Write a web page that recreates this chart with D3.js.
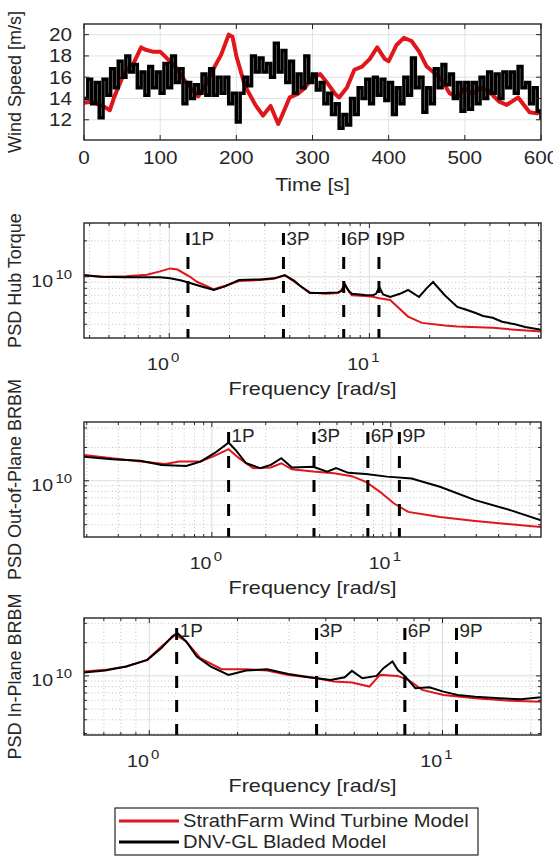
<!DOCTYPE html>
<html>
<head>
<meta charset="utf-8">
<script src="https://cdn.jsdelivr.net/npm/d3@7"></script>
<style>
  body { margin: 0; background: #fff; }
  text { font-family: "Liberation Sans", Arial, Helvetica, sans-serif; fill: #262626; }
</style>
</head>
<body>
<div id="chart"></div>
<script>
// ---- data ----
// wind speed, StrathFarm model (time [s], speed [m/s])
const windStrathT = [0,10,25,34,40,50,55,65,75,80,90,100,110,120,130,140,150,160,170,180,190,195,200,210,215,225,235,245,255,260,270,280,290,300,310,320,330,335,345,355,365,375,385,395,400,410,420,430,440,450,460,470,480,490,500,510,520,530,545,555,570,585,595,600];
const windStrathV = [13.6,13.7,13.3,12.9,14.2,15.9,16.6,17.3,18.8,18.6,18.4,18.4,17.7,17.0,15.9,15.0,14.2,15.3,16.8,18.1,20.0,19.8,18.0,15.5,14.7,13.4,12.4,13.3,11.6,12.4,14.1,14.4,15.0,16.0,16.3,15.4,14.4,14.1,15.0,16.7,17.0,17.7,18.8,17.7,17.5,19.0,19.7,19.4,18.4,17.0,16.4,15.7,14.5,14.1,15.0,14.4,15.0,14.8,13.7,13.4,14.1,12.7,12.6,12.9];
// wind speed, Bladed model, one sample every 5 s from 0 to 600 s
const windBladedV = [
  14.0,15.8,13.5,15.5,12.2,15.8,14.3,16.8,15.0,17.5,
  16.0,18.0,16.5,17.2,15.0,16.5,14.3,17.0,15.0,16.5,
  14.5,17.3,15.0,18.0,15.5,16.8,13.5,15.5,14.0,15.3,
  14.5,16.3,14.3,16.8,14.3,16.0,14.5,16.0,13.5,14.5,
  11.8,14.5,16.0,15.2,18.0,16.5,17.8,16.5,17.3,16.0,
  19.2,16.5,18.5,15.5,17.5,14.5,16.3,15.0,18.0,15.5,
  16.3,14.8,15.5,13.5,14.5,12.5,13.5,11.2,12.5,11.5,
  14.0,12.5,15.0,14.0,15.8,13.5,16.0,14.3,15.8,13.8,
  15.5,12.5,15.0,13.5,16.0,14.3,17.8,15.0,16.0,12.7,
  15.0,13.5,16.8,15.0,17.2,15.3,16.3,14.0,15.5,12.8,
  15.5,13.0,15.5,13.5,16.0,14.0,16.5,14.5,16.3,14.0,
  16.5,15.0,16.5,14.5,17.0,15.0,15.5,13.5,15.0,12.8,
  12.0];
const timeTicks = [0,100,200,300,400,500,600];
const speedTicks = [12,14,16,18,20];

// PSD values below are in units of 1e10
const hubFreqBladed = [0.375,0.45,0.6,0.77,0.9,1.01,1.15,1.27,1.45,1.67,1.9,2.23,2.84,3.33,3.78,4.2,4.5,5.04,5.99,6.96,7.25,7.55,7.9,8.18,9.5,10.4,10.8,11.2,11.7,12.7,14.2,15.6,17.7,19.3,20.8,23.8,27.5,30.5,33.7,37,41.3,46,53.3,60,72];
const hubPsdBladed = [1.03,1.0,0.99,0.99,0.99,0.97,0.93,0.886,0.83,0.775,0.83,0.939,0.95,0.97,1.03,0.93,0.84,0.732,0.73,0.74,0.76,0.853,0.76,0.72,0.704,0.70,0.72,0.821,0.71,0.677,0.72,0.775,0.677,0.80,0.903,0.70,0.559,0.53,0.50,0.47,0.453,0.42,0.40,0.38,0.36];
const hubFreqStrath = [0.375,0.477,0.608,0.774,0.9,1.01,1.1,1.27,1.375,1.67,1.9,2.23,2.84,3.33,3.78,4.5,5.04,5.99,6.96,7.2,7.55,7.9,8.18,9.5,10.4,11.2,12.7,13.8,15.6,18.3,23.8,27.5,41.3,53.3,72];
const hubPsdStrath = [1.03,1.0,1.01,1.04,1.11,1.175,1.15,1.0,0.908,0.785,0.84,0.92,0.939,0.96,1.03,0.84,0.74,0.72,0.73,0.76,0.87,0.75,0.70,0.69,0.681,0.66,0.64,0.562,0.464,0.411,0.39,0.383,0.374,0.36,0.348];

const oopFreqBladed = [0.193,0.277,0.399,0.524,0.719,0.863,1.034,1.24,1.356,1.554,1.864,2.135,2.443,2.80,3.68,4.41,4.94,5.78,7.25,9.52,13.06,18.8,29.6,46.5,69];
const oopPsdBladed = [1.65,1.565,1.52,1.39,1.36,1.49,1.775,2.215,1.90,1.44,1.30,1.39,1.60,1.32,1.34,1.21,1.30,1.18,1.15,1.09,1.05,0.882,0.668,0.542,0.439];
const oopFreqStrath = [0.193,0.277,0.399,0.548,0.658,0.863,1.034,1.24,1.418,1.703,2.135,2.443,2.80,3.68,4.82,6.05,7.25,8.69,10.42,12.5,18.8,29.6,46.5,69];
const oopPsdStrath = [1.712,1.60,1.49,1.42,1.49,1.49,1.677,1.93,1.60,1.30,1.32,1.44,1.27,1.21,1.167,1.10,0.979,0.794,0.623,0.523,0.471,0.433,0.404,0.382];

const ipFreqBladed = [0.599,0.707,0.835,0.985,1.10,1.196,1.247,1.336,1.452,1.622,1.862,2.139,2.523,2.981,3.52,4.15,4.64,4.91,5.33,5.96,6.29,6.75,7.03,7.43,8.08,9.02,10.07,11.26,12.93,15.68,18.52,21.67];
const ipPsdBladed = [1.072,1.117,1.215,1.398,1.786,2.276,2.445,2.05,1.498,1.215,1.021,1.117,1.151,1.042,0.973,0.920,0.973,1.11,0.953,1.0,1.175,1.349,1.134,1.0,0.773,0.789,0.72,0.672,0.648,0.627,0.614,0.640];
const ipFreqStrath = [0.599,0.707,0.835,0.985,1.10,1.229,1.336,1.493,1.763,2.139,2.523,2.981,3.72,4.27,4.91,5.63,6.12,7.03,7.64,8.53,10.07,12.93,17.04,21.67];
const ipPsdStrath = [1.094,1.134,1.215,1.398,1.846,2.36,2.05,1.449,1.151,1.151,1.117,1.021,0.953,0.888,0.869,0.80,1.021,1.0,0.92,0.746,0.672,0.627,0.596,0.584];

const harmonicNames = ["1P","3P","6P","9P"];
const harmonicMultiples = [1,3,6,9];
const ROTOR_FREQ = 1.24; // rad/s

const legendNames = ["StrathFarm Wind Turbine Model","DNV-GL Bladed Model"];

// ---- layout ----
const W = 553, H = 856,
  LEFT = 84, RIGHT = 541,
  STRETCH = 1.15,
  INK = "#262626",
  RED = "#e0161b",
  BLACK = "#000";

var svg = d3.select("#chart").append("svg")
  .attr("width", W).attr("height", H);

function hText(x, y, str, size, anchor, sx) {
  return svg.append("text")
    .attr("transform", "translate(" + x + "," + y + ") scale(" + (sx || STRETCH) + ",1)")
    .attr("text-anchor", anchor)
    .attr("dy", "0.35em")
    .attr("font-size", size)
    .text(str);
}

function yLabel(y, str) {
  svg.append("text")
    .attr("transform", "translate(15," + y + ") rotate(-90)")
    .attr("text-anchor", "middle")
    .attr("dy", "0.35em")
    .attr("font-size", 18)
    .text(str);
}

function powerLabel(x, y, exponent, anchor) {
  var t = svg.append("text")
    .attr("transform", "translate(" + x + "," + y + ") scale(" + STRETCH + ",1)")
    .attr("text-anchor", anchor)
    .attr("font-size", 17);
  t.append("tspan").attr("dy", "0.35em").text("10");
  t.append("tspan").attr("dx", 2).attr("dy", -8).attr("font-size", 13).text(exponent);
}

function frame(top, bottom) {
  svg.append("rect")
    .attr("x", LEFT).attr("y", top)
    .attr("width", RIGHT - LEFT).attr("height", bottom - top)
    .attr("fill", "none").attr("stroke", INK).attr("stroke-width", 1.4);
}

function clip(id, top, bottom) {
  svg.append("clipPath").attr("id", id).append("rect")
    .attr("x", LEFT).attr("y", top)
    .attr("width", RIGHT - LEFT).attr("height", bottom - top);
}

// ---- panel 1: wind speed ----
(function() {
  var top = 24, bottom = 140;
  var x = d3.scaleLinear().domain([0, 600]).range([LEFT, RIGHT]);
  var y = d3.scaleLinear().domain([10.1, 21]).range([bottom, top]);
  var g = svg.append("g");

  g.selectAll(".gx").data(timeTicks.slice(1, -1)).enter().append("line")
    .attr("x1", x).attr("x2", x).attr("y1", top).attr("y2", bottom)
    .attr("stroke", "#e3e3e3");
  g.selectAll(".gy").data(speedTicks).enter().append("line")
    .attr("x1", LEFT).attr("x2", RIGHT).attr("y1", y).attr("y2", y)
    .attr("stroke", "#e3e3e3");

  clip("clip1", top, bottom);
  var lines = svg.append("g").attr("clip-path", "url(#clip1)");
  lines.append("path")
    .datum(d3.zip(windStrathT, windStrathV))
    .attr("d", d3.line().x(d => x(d[0])).y(d => y(d[1])))
    .attr("fill", "none").attr("stroke", RED).attr("stroke-width", 4)
    .attr("stroke-linejoin", "round");
  lines.append("path")
    .datum(windBladedV.map((v, i) => [i * 5, v]))
    .attr("d", d3.line().curve(d3.curveStepAfter).x(d => x(d[0])).y(d => y(d[1])))
    .attr("fill", "none").attr("stroke", BLACK).attr("stroke-width", 3.5);

  timeTicks.forEach(function(t) {
    svg.append("line").attr("x1", x(t)).attr("x2", x(t)).attr("y1", bottom).attr("y2", bottom - 5).attr("stroke", INK);
    svg.append("line").attr("x1", x(t)).attr("x2", x(t)).attr("y1", top).attr("y2", top + 5).attr("stroke", INK);
    hText(x(t), bottom + 18, t, 18, "middle");
  });
  speedTicks.forEach(function(v) {
    svg.append("line").attr("x1", LEFT).attr("x2", LEFT + 5).attr("y1", y(v)).attr("y2", y(v)).attr("stroke", INK);
    svg.append("line").attr("x1", RIGHT).attr("x2", RIGHT - 5).attr("y1", y(v)).attr("y2", y(v)).attr("stroke", INK);
    hText(72, y(v), v, 18, "end");
  });
  frame(top, bottom);
  hText((LEFT + RIGHT) / 2, 185, "Time [s]", 18, "middle", 1.18);
  yLabel((top + bottom) / 2, "Wind Speed [m/s]");
})();

// ---- PSD panels ----
function isDecade(v) {
  var l = Math.log10(v);
  return Math.abs(l - Math.round(l)) < 1e-9;
}

function drawPsd(p) {
  var x = d3.scaleLog().domain(p.xDomain).range([LEFT, RIGHT]);
  var y = d3.scaleLog().domain(p.yDomain).range([p.bottom, p.top]);
  var xt = x.ticks(), yt = y.ticks();
  var g = svg.append("g");

  // grid: dotted minor, solid major
  g.selectAll(".mx").data(xt.filter(v => !isDecade(v))).enter().append("line")
    .attr("x1", x).attr("x2", x).attr("y1", p.top).attr("y2", p.bottom)
    .attr("stroke", "#c4c4c4").attr("stroke-dasharray", "1,2.5");
  g.selectAll(".my").data(yt.filter(v => !isDecade(v))).enter().append("line")
    .attr("x1", LEFT).attr("x2", RIGHT).attr("y1", y).attr("y2", y)
    .attr("stroke", "#c4c4c4").attr("stroke-dasharray", "1,2.5");
  g.selectAll(".Mx").data(xt.filter(isDecade)).enter().append("line")
    .attr("x1", x).attr("x2", x).attr("y1", p.top).attr("y2", p.bottom)
    .attr("stroke", "#dcdcdc");
  g.selectAll(".My").data(yt.filter(isDecade)).enter().append("line")
    .attr("x1", LEFT).attr("x2", RIGHT).attr("y1", y).attr("y2", y)
    .attr("stroke", "#dcdcdc");

  clip(p.id, p.top, p.bottom);
  var lines = svg.append("g").attr("clip-path", "url(#" + p.id + ")");
  var line = d3.line().x(d => x(d[0])).y(d => y(d[1] * 1e10));
  lines.append("path").datum(d3.zip(p.strathF, p.strathP)).attr("d", line)
    .attr("fill", "none").attr("stroke", RED).attr("stroke-width", 2);
  lines.append("path").datum(d3.zip(p.bladedF, p.bladedP)).attr("d", line)
    .attr("fill", "none").attr("stroke", BLACK).attr("stroke-width", 2);

  // harmonic markers
  harmonicMultiples.forEach(function(m, i) {
    var hx = x(ROTOR_FREQ * m);
    svg.append("line")
      .attr("x1", hx).attr("x2", hx).attr("y1", p.top + 10).attr("y2", p.bottom)
      .attr("stroke", BLACK).attr("stroke-width", 3).attr("stroke-dasharray", "12,12");
    hText(hx + 3, p.top + p.labelDy, harmonicNames[i], 18, "start", 1.05);
  });

  // tick marks
  xt.forEach(function(v) {
    var len = isDecade(v) ? 5 : 3;
    svg.append("line").attr("x1", x(v)).attr("x2", x(v)).attr("y1", p.bottom).attr("y2", p.bottom - len).attr("stroke", INK);
    svg.append("line").attr("x1", x(v)).attr("x2", x(v)).attr("y1", p.top).attr("y2", p.top + len).attr("stroke", INK);
  });
  yt.forEach(function(v) {
    var len = isDecade(v) ? 5 : 3;
    svg.append("line").attr("x1", LEFT).attr("x2", LEFT + len).attr("y1", y(v)).attr("y2", y(v)).attr("stroke", INK);
    svg.append("line").attr("x1", RIGHT).attr("x2", RIGHT - len).attr("y1", y(v)).attr("y2", y(v)).attr("stroke", INK);
  });
  frame(p.top, p.bottom);

  xt.filter(isDecade).forEach(function(v) {
    powerLabel(x(v) - 6, p.bottom + 26, Math.round(Math.log10(v)), "middle");
  });
  yt.filter(isDecade).forEach(function(v) {
    powerLabel(72, y(v) + 4, Math.round(Math.log10(v)), "end");
  });
  hText((LEFT + RIGHT) / 2, p.bottom + 51, "Frequency [rad/s]", 18, "middle", 1.2);
  yLabel((p.top + p.bottom) / 2, p.yLabel);
}

drawPsd({
  id: "clip2", top: 223, bottom: 338, labelDy: 15.5,
  xDomain: [0.375, 72], yDomain: [3.07e9, 2.82e10],
  strathF: hubFreqStrath, strathP: hubPsdStrath,
  bladedF: hubFreqBladed, bladedP: hubPsdBladed,
  yLabel: "PSD Hub Torque"
});
drawPsd({
  id: "clip3", top: 422, bottom: 537, labelDy: 13.5,
  xDomain: [0.193, 69], yDomain: [3.1e9, 3.4e10],
  strathF: oopFreqStrath, strathP: oopPsdStrath,
  bladedF: oopFreqBladed, bladedP: oopPsdBladed,
  yLabel: "PSD Out-of-Plane BRBM"
});
drawPsd({
  id: "clip4", top: 618, bottom: 735, labelDy: 13,
  xDomain: [0.599, 21.67], yDomain: [2.91e9, 3.35e10],
  strathF: ipFreqStrath, strathP: ipPsdStrath,
  bladedF: ipFreqBladed, bladedP: ipPsdBladed,
  yLabel: "PSD In-Plane BRBM"
});

// ---- legend ----
(function() {
  var lx = 115, ly = 808, lw = 363, lh = 47;
  svg.append("rect").attr("x", lx).attr("y", ly).attr("width", lw).attr("height", lh)
    .attr("fill", "#fff").attr("stroke", INK).attr("stroke-width", 1.2);
  [RED, BLACK].forEach(function(c, i) {
    var yy = ly + 13 + i * 21;
    svg.append("line").attr("x1", lx + 4).attr("x2", lx + 64).attr("y1", yy).attr("y2", yy)
      .attr("stroke", c).attr("stroke-width", 3);
    hText(lx + 68, yy, legendNames[i], 18, "start", 1.12);
  });
})();
</script>
</body>
</html>
